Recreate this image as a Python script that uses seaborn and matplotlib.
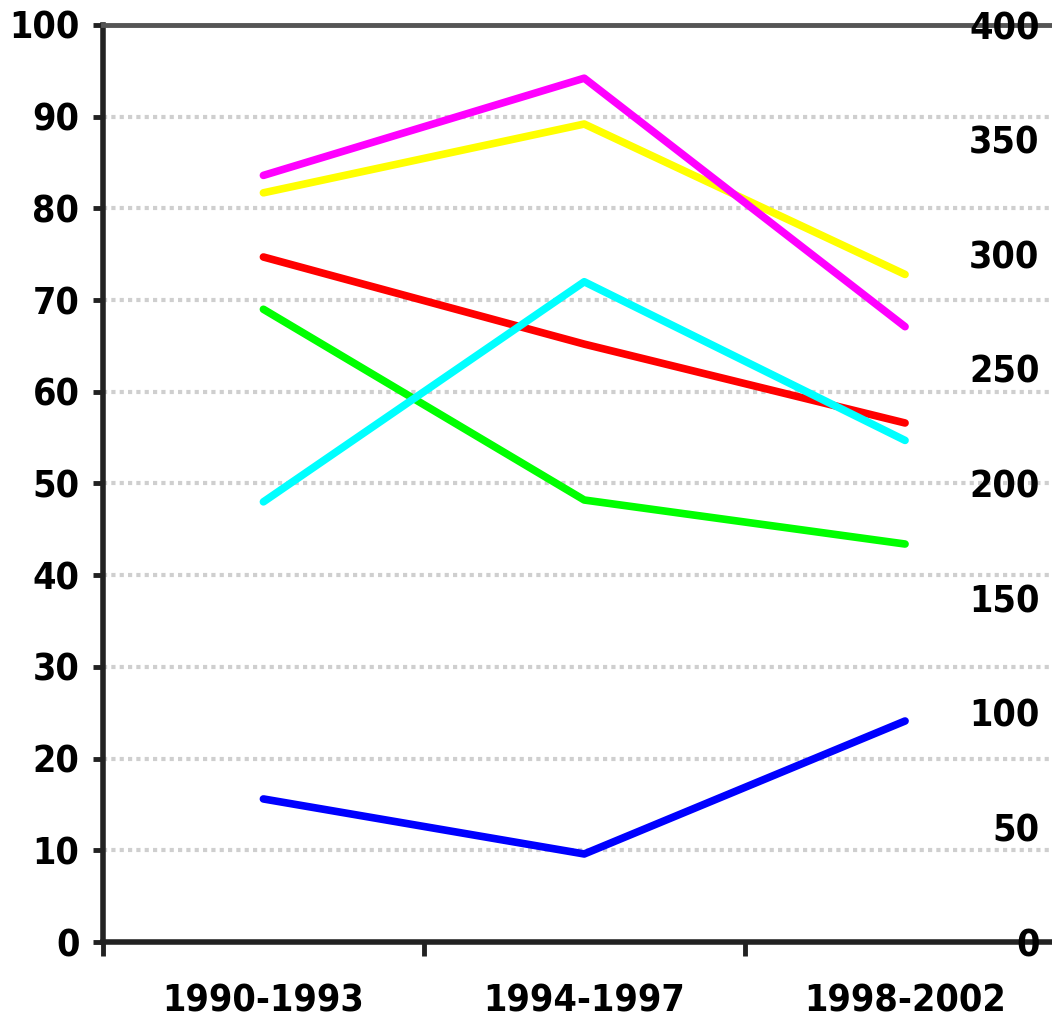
import matplotlib
matplotlib.use("Agg")
import matplotlib.pyplot as plt
import seaborn as sns
import pandas as pd

periods = ["1990-1993", "1994-1997", "1998-2002"]
blue = [15.6, 9.6, 24.1]
green = [69.0, 48.2, 43.4]
red = [74.7, 65.2, 56.6]
cyan = [48.0, 72.0, 54.7]
yellow = [81.7, 89.2, 72.8]
magenta = [83.6, 94.2, 67.1]

series = {"blue": blue, "green": green, "red": red,
          "cyan": cyan, "yellow": yellow, "magenta": magenta}
colors = {"blue": "#0000ff", "green": "#00ff00", "red": "#ff0000",
          "cyan": "#00ffff", "yellow": "#ffff00", "magenta": "#ff00ff"}

rows = []
for name, vals in series.items():
    for i, v in enumerate(vals):
        rows.append({"pos": i, "period": periods[i], "value": v, "series": name})
df = pd.DataFrame(rows)

sns.set_theme(style="white")
plt.rcParams['font.family'] = ['DejaVu Sans']
plt.rcParams['font.stretch'] = 'condensed'

fp = dict(fontsize=27, fontweight="heavy", color="black", fontstretch="condensed")

fig = plt.figure(figsize=(10.52, 10.21), dpi=100)
ax = fig.add_axes([103/1052, 1 - 942/1021, (1052 - 103)/1052, (942 - 25)/1021])

for y in range(10, 100, 10):
    ax.axhline(y, color="#cfcfcf", lw=3, ls=(0, (1, 1)), zorder=0)

sns.lineplot(data=df, x="pos", y="value", hue="series", palette=colors,
             hue_order=list(series.keys()), linewidth=5.5, legend=False, ax=ax,
             sort=False)

ax.set_xlim(-0.5, 2.458)
ax.set_ylim(0, 100)
ax.set_xlabel("")
ax.set_ylabel("")

ax.spines["right"].set_visible(False)
ax.spines["left"].set_color("#222222")
ax.spines["left"].set_linewidth(4)
ax.spines["bottom"].set_color("#222222")
ax.spines["bottom"].set_linewidth(4)
ax.spines["top"].set_color("#555555")
ax.spines["top"].set_linewidth(3.5)

ax.set_yticks(range(0, 101, 10))
ax.set_yticklabels([str(v) for v in range(0, 101, 10)], **fp)
ax.tick_params(axis="y", direction="out", length=7, width=3.5, color="#222222", pad=10, left=True)

ax.set_xticks([-0.5, 0.5, 1.5])
ax.set_xticklabels(["", "", ""])
ax.set_xticks([0, 1, 2], minor=True)
ax.set_xticklabels(periods, minor=True, **fp)
ax.tick_params(axis="x", which="major", direction="out", length=10, width=3.5, color="#222222", bottom=True)
ax.tick_params(axis="x", which="minor", length=0, pad=30, bottom=True)

ax2 = ax.twinx()
ax2.set_ylim(0, 400)
ax2.set_yticks(range(0, 401, 50))
ax2.set_yticklabels([str(v) for v in range(0, 401, 50)], **fp)
for s in ax2.spines.values():
    s.set_visible(False)
ax2.tick_params(axis="y", length=0, pad=-9)
for lbl in ax2.get_yticklabels():
    lbl.set_horizontalalignment("right")

fig.savefig("out.png", dpi=100)
